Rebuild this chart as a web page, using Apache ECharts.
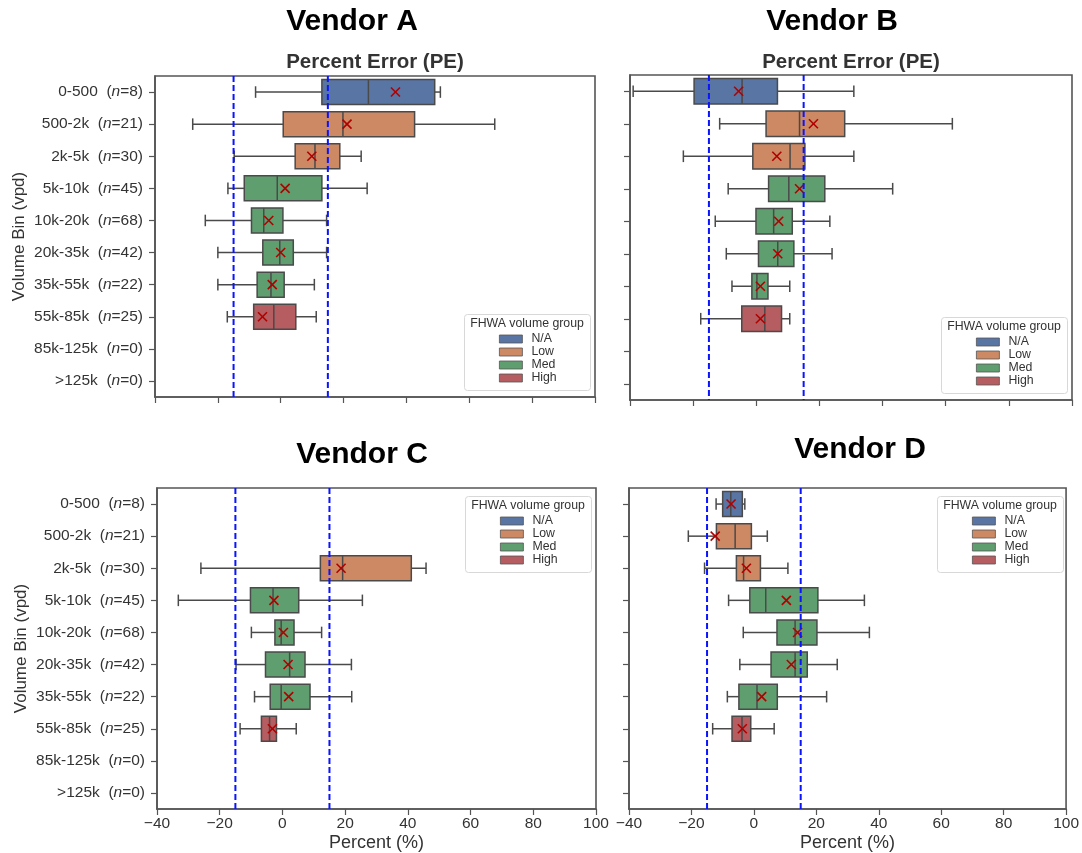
<!DOCTYPE html>
<html>
<head>
<meta charset="utf-8">
<script src="https://cdn.jsdelivr.net/npm/echarts@6/dist/echarts.min.js"></script>
<style>
  html, body { margin: 0; padding: 0; background: #ffffff; }
  #chart { width: 1082px; height: 853px; }
</style>
</head>
<body>
<div id="chart"></div>
<script>
// ---------------- data ----------------
const categories = ['0-500', '500-2k', '2k-5k', '5k-10k', '10k-20k', '20k-35k', '35k-55k', '55k-85k', '85k-125k', '>125k'];
const counts = [8, 21, 30, 45, 68, 42, 22, 25, 0, 0];
const volumeGroup = ['N/A', 'Low', 'Low', 'Med', 'Med', 'Med', 'Med', 'High', null, null];
const groupNames = ['N/A', 'Low', 'Med', 'High'];
const tolerance = [-15, 15];
const xMin = -40, xMax = 100, xStep = 20;

// rows: [lower whisker, Q1, median, Q3, upper whisker, mean]
const vendorA = [
  [-8.0, 13.1, 27.9, 49.0, 50.8, 36.5],
  [-28.0, 0.8, 19.8, 42.6, 68.1, 21.1],
  [-14.8, 4.6, 10.9, 18.8, 25.6, 9.9],
  [-16.8, -11.6, -1.1, 13.1, 27.5, 1.4],
  [-24.0, -9.3, -5.4, 0.7, 14.6, -3.8],
  [-20.0, -5.7, -0.3, 4.0, 14.6, 0.0],
  [-20.0, -7.5, -3.1, 1.1, 10.7, -2.7],
  [-17.0, -8.6, -2.2, 4.8, 11.3, -5.8],
  null, null
];
const vendorB = [
  [-39.0, -19.7, -4.5, 6.7, 30.9, -5.6],
  [-11.6, 3.1, 13.7, 28.0, 62.1, 18.1],
  [-23.1, -1.1, 10.7, 15.4, 30.9, 6.5],
  [-8.9, 3.9, 10.3, 21.7, 43.2, 13.7],
  [-13.0, -0.1, 5.5, 11.4, 23.3, 7.1],
  [-9.5, 0.7, 6.8, 11.9, 24.0, 6.8],
  [-7.7, -1.4, 0.2, 3.7, 10.6, 1.3],
  [-17.6, -4.6, 2.7, 8.0, 10.6, 1.3],
  null, null
];
const vendorC = [
  null, null,
  [-26.0, 12.1, 19.2, 41.1, 45.8, 18.7],
  [-33.2, -10.2, -3.0, 5.2, 25.5, -2.7],
  [-9.9, -2.4, -0.4, 3.7, 12.5, 0.3],
  [-14.8, -5.4, 2.3, 7.2, 22.0, 1.8],
  [-8.9, -3.9, -0.4, 8.8, 22.1, 2.0],
  [-13.5, -6.7, -4.1, -1.9, 4.4, -3.2],
  null, null
];
const vendorD = [
  [-12.1, -10.0, -7.4, -3.7, -2.9, -7.3],
  [-21.0, -12.0, -6.0, -0.8, 4.3, -12.4],
  [-15.8, -5.6, -3.3, 2.1, 10.9, -2.4],
  [-8.1, -1.3, 3.8, 20.5, 35.4, 10.4],
  [-3.4, 7.4, 13.2, 20.2, 37.0, 14.0],
  [-4.5, 5.5, 13.2, 17.1, 26.7, 12.0],
  [-8.5, -4.8, 1.0, 7.5, 23.3, 2.5],
  [-13.2, -7.0, -3.8, -1.0, 6.5, -3.7],
  null, null
];

// ---------------- styles / layout ----------------
const FONT = '"Liberation Sans", Arial, Helvetica, sans-serif';
const groupColors = { 'N/A': '#5875a4', 'Low': '#cc8963', 'Med': '#5f9e6e', 'High': '#b55d60' };
const edgeColor = '#4a4a4a';
const meanColor = '#b00000';
const axisColor = '#555555';

const panels = [
  { title: 'Vendor A', rows: vendorA, grid: { left: 155, top: 76, width: 440, height: 321 }, yLab: true, xLab: false,
    titlePos: [352, 22], subPos: [375, 62], legendPos: [464, 314] },
  { title: 'Vendor B', rows: vendorB, grid: { left: 630, top: 75, width: 442, height: 325 }, yLab: false, xLab: false,
    titlePos: [832, 22], subPos: [851, 62], legendPos: [941, 317] },
  { title: 'Vendor C', rows: vendorC, grid: { left: 157, top: 488, width: 439, height: 321 }, yLab: true, xLab: true,
    titlePos: [362, 455], subPos: null, legendPos: [465, 496] },
  { title: 'Vendor D', rows: vendorD, grid: { left: 629, top: 488, width: 439, height: 322 }, yLab: false, xLab: true,
    titlePos: [860, 450], subPos: null, legendPos: [937, 496] }
];

function renderBox(params, api) {
  const ci = api.value(0);
  const lo = api.coord([api.value(1), ci]);
  const q1 = api.coord([api.value(2), ci]);
  const md = api.coord([api.value(3), ci]);
  const q3 = api.coord([api.value(4), ci]);
  const hi = api.coord([api.value(5), ci]);
  const mn = api.coord([api.value(6), ci]);
  const band = api.size([0, 1])[1];
  const h = band * 0.39, cap = band * 0.18, xs = 4.5;
  const y = lo[1];
  const lineStyle = { stroke: edgeColor, lineWidth: 1.5, fill: null };
  const meanStyle = { stroke: meanColor, lineWidth: 1.6, fill: null };
  return {
    type: 'group',
    children: [
      { type: 'line', shape: { x1: lo[0], y1: y, x2: q1[0], y2: y }, style: lineStyle },
      { type: 'line', shape: { x1: q3[0], y1: y, x2: hi[0], y2: y }, style: lineStyle },
      { type: 'line', shape: { x1: lo[0], y1: y - cap, x2: lo[0], y2: y + cap }, style: lineStyle },
      { type: 'line', shape: { x1: hi[0], y1: y - cap, x2: hi[0], y2: y + cap }, style: lineStyle },
      { type: 'rect', shape: { x: q1[0], y: y - h, width: q3[0] - q1[0], height: 2 * h },
        style: { fill: api.visual('color'), stroke: edgeColor, lineWidth: 1.5 } },
      { type: 'line', shape: { x1: md[0], y1: y - h, x2: md[0], y2: y + h }, style: lineStyle },
      { type: 'line', shape: { x1: mn[0] - xs, y1: y - xs, x2: mn[0] + xs, y2: y + xs }, style: meanStyle, z2: 10 },
      { type: 'line', shape: { x1: mn[0] - xs, y1: y + xs, x2: mn[0] + xs, y2: y - xs }, style: meanStyle, z2: 10 }
    ]
  };
}

function renderRef(params, api) {
  const cs = params.coordSys;
  const p = api.coord([api.value(0), 0]);
  return {
    type: 'line',
    shape: { x1: p[0], y1: cs.y, x2: p[0], y2: cs.y + cs.height },
    style: { stroke: '#0a14ff', lineWidth: 2, lineDash: [6, 3], fill: null }
  };
}

const grids = [], xAxes = [], yAxes = [], series = [], legends = [], graphics = [];

panels.forEach((p, gi) => {
  grids.push(Object.assign({ show: true, borderColor: axisColor, borderWidth: 1.6, backgroundColor: '#fff' }, p.grid));
  xAxes.push({
    type: 'value', gridIndex: gi, min: xMin, max: xMax, interval: xStep,
    splitLine: { show: false },
    axisLine: { show: true, onZero: false, lineStyle: { color: axisColor, width: 1.6 } },
    axisTick: { show: true, length: 6, lineStyle: { color: axisColor, width: 1.2 } },
    axisLabel: { show: p.xLab, color: '#333', fontSize: 15.5, fontFamily: FONT, margin: 7,
      formatter: v => String(v).replace('-', '\u2212') },
    name: p.xLab ? 'Percent (%)' : '',
    nameLocation: 'middle', nameGap: 25,
    nameTextStyle: { color: '#333', fontSize: 18, fontFamily: FONT }
  });
  yAxes.push({
    type: 'category', gridIndex: gi, data: categories, inverse: true,
    axisLine: { show: true, onZero: false, lineStyle: { color: axisColor, width: 1.6 } },
    axisTick: { show: true, alignWithLabel: true, length: 6, lineStyle: { color: axisColor, width: 1.2 } },
    axisLabel: {
      show: p.yLab, margin: 12, color: '#333', fontSize: 15.5, fontFamily: FONT,
      formatter: (val, idx) => val + '  ({n|n}=' + counts[idx] + ')',
      rich: { n: { fontStyle: 'italic', fontSize: 15.5, color: '#333', fontFamily: FONT } }
    },
    name: p.yLab ? 'Volume Bin (vpd)' : '',
    nameLocation: 'middle', nameRotate: 90, nameGap: 127,
    nameTextStyle: { color: '#333', fontSize: 17, fontFamily: FONT }
  });

  groupNames.forEach(g => {
    const data = [];
    p.rows.forEach((r, i) => {
      if (r && volumeGroup[i] === g) data.push([i].concat(r));
    });
    series.push({
      type: 'custom', name: g, xAxisIndex: gi, yAxisIndex: gi,
      itemStyle: { color: groupColors[g] },
      encode: { x: [1, 2, 3, 4, 5, 6], y: 0 },
      renderItem: renderBox, data: data, z: 2, silent: true
    });
  });
  series.push({
    type: 'custom', name: 'tolerance', xAxisIndex: gi, yAxisIndex: gi,
    encode: { x: 0 }, renderItem: renderRef,
    data: tolerance.map(t => [t]), z: 3, silent: true
  });

  // legend frame + title
  const [fx, fy] = p.legendPos;
  graphics.push({
    type: 'rect', left: fx, top: fy, z: 5,
    shape: { width: 126, height: 76, r: 3 },
    style: { fill: 'rgba(255,255,255,0.85)', stroke: '#d8d8d8', lineWidth: 1 }
  });
  graphics.push({
    type: 'text', x: fx + 63, y: fy + 10, z: 6,
    style: { text: 'FHWA volume group', font: '12.3px ' + FONT, fill: '#333', align: 'center', verticalAlign: 'middle' }
  });
  legends.push({
    data: groupNames, orient: 'vertical', left: fx + 35, top: fy + 18.5, z: 7,
    icon: 'rect', itemWidth: 23, itemHeight: 8, itemGap: 0, padding: 0,
    selectedMode: false,
    itemStyle: { borderColor: '#555', borderWidth: 0.8 },
    textStyle: { fontSize: 12.3, lineHeight: 13, color: '#333', fontFamily: FONT, padding: [0, 0, 0, 4] }
  });

  // titles
  graphics.push({
    type: 'text', x: p.titlePos[0], y: p.titlePos[1], z: 8,
    style: { text: p.title, font: 'bold 30px ' + FONT, fill: '#000', align: 'center', verticalAlign: 'middle' }
  });
  if (p.subPos) {
    graphics.push({
      type: 'text', x: p.subPos[0], y: p.subPos[1], z: 8,
      style: { text: 'Percent Error (PE)', font: 'bold 20.5px ' + FONT, fill: '#333', align: 'center', verticalAlign: 'middle' }
    });
  }
});

const chart = echarts.init(document.getElementById('chart'), null, { renderer: 'canvas' });
chart.setOption({
  backgroundColor: '#ffffff',
  animation: false,
  grid: grids,
  xAxis: xAxes,
  yAxis: yAxes,
  legend: legends,
  series: series,
  graphic: graphics
});
</script>
</body>
</html>
